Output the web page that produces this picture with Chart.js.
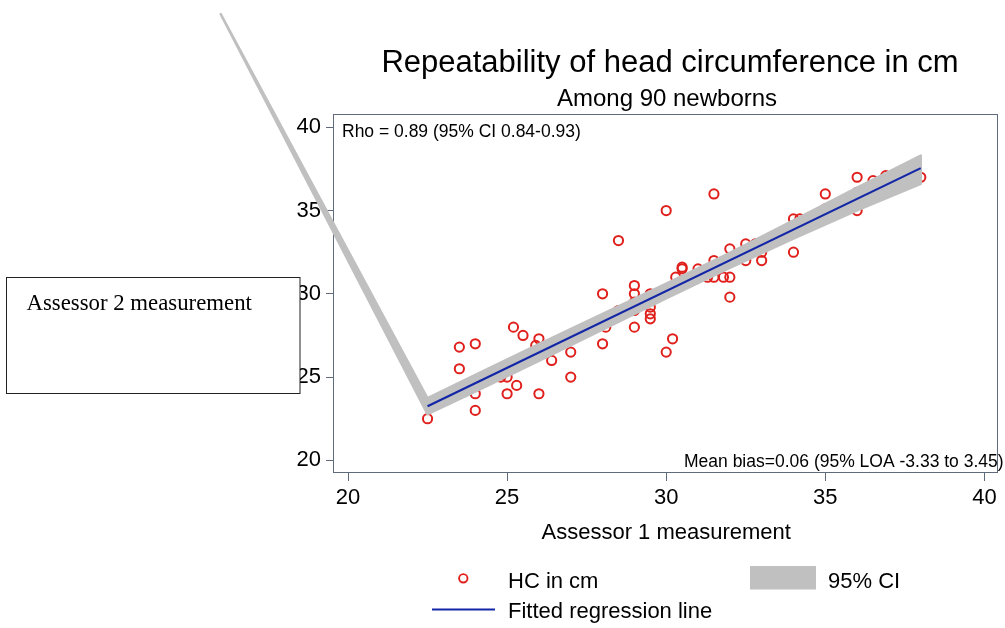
<!DOCTYPE html>
<html>
<head>
<meta charset="utf-8">
<script src="https://cdn.jsdelivr.net/npm/chart.js@4.4.1/dist/chart.umd.min.js"></script>
<style>
  html, body { margin: 0; padding: 0; background: #ffffff; }
  canvas { display: block; }
</style>
</head>
<body>
<canvas id="chart" width="1005" height="628"></canvas>
<script>
// Head circumference (cm) measured by two assessors
const assessor1 = [
  22.5, 23.5, 24, 23.5, 24, 24, 25.2, 25.5, 26, 25.9,
  26.4, 25, 24.8, 25.3, 25, 26, 27, 27, 28, 28,
  28.1, 28.5, 28.5, 29, 29, 29, 29, 29, 29.5, 29.5,
  29.5, 29.5, 29.5, 30, 30, 30.2, 30.3, 30.5, 30.5, 31,
  31, 31.3, 31.5, 31.8, 32, 31.5, 31.5, 32, 32, 32.5,
  32.8, 32.5, 33, 33, 34, 34.2, 34, 35, 35, 35,
  36, 36.5, 36.9, 38, 36, 36
];
const assessor2 = [
  22.5, 26.8, 27, 25.5, 24, 23, 28, 27.5, 27.3, 26.9,
  26, 25, 25, 24.5, 24, 24, 26.5, 25, 30, 27,
  28, 29, 33.2, 30.5, 30, 29.5, 29, 28, 30, 29.6,
  29.2, 28.8, 28.5, 35, 26.5, 27.3, 31, 31.5, 31.6, 31.5,
  31, 31, 31, 31, 31, 32, 36, 32.7, 29.8, 33,
  33, 32, 32.5, 32, 34.5, 34.5, 32.5, 36, 35.1, 34.5,
  37, 36.8, 37.1, 37, 35, 36.1
];

// Fitted regression line
const fitX = [22.5, 38];
const fitY = [23.25, 37.55];

// 95% confidence band of the fit
const ciX    = [16.0, 22.5, 24, 26, 28, 30, 32, 34, 36, 38];
const ciLow  = [46.8, 22.77, 24.13, 25.98, 27.85, 29.72, 31.56, 33.31, 35.02, 36.6];
const ciHigh = [46.8, 23.73, 25.13, 26.98, 28.79, 30.62, 32.46, 34.41, 36.38, 38.3];

// Axis ticks
const xTicks = [20, 25, 30, 35, 40];
const yTicks = [20, 25, 30, 35, 40];

const frameColor = '#5f6b7a';
const redColor = '#e0201c';
const blueColor = '#1226a6';
const bandColor = '#c0c0c0';
const sans = '"Liberation Sans", Arial, Helvetica, sans-serif';
const serif = '"Liberation Serif", "Times New Roman", serif';

// Confidence band: filled polygon through the scales, drawn just before the fit line
const ciBand = {
  id: 'ciBand',
  beforeDatasetDraw(chart, args) {
    if (args.index !== 0) return;
    const { ctx, scales: { x, y } } = chart;
    ctx.save();
    ctx.beginPath();
    ciX.forEach((v, i) => {
      const px = x.getPixelForValue(v), py = y.getPixelForValue(ciHigh[i]);
      if (i === 0) ctx.moveTo(px, py); else ctx.lineTo(px, py);
    });
    for (let i = ciX.length - 1; i >= 0; i--) {
      ctx.lineTo(x.getPixelForValue(ciX[i]), y.getPixelForValue(ciLow[i]));
    }
    ctx.closePath();
    ctx.fillStyle = bandColor;
    ctx.fill();
    ctx.lineWidth = 2.5;
    ctx.lineJoin = 'round';
    ctx.strokeStyle = bandColor;
    ctx.stroke();
    ctx.restore();
  }
};

// Plot frame, annotations, titles, legend and the y-axis caption box
const decor = {
  id: 'decor',
  beforeDatasetsDraw(chart) {
    const { ctx, chartArea: a } = chart;
    ctx.save();
    ctx.strokeStyle = frameColor;
    ctx.lineWidth = 1;
    ctx.strokeRect(Math.round(a.left) - 0.5, Math.round(a.top) + 0.5,
                   Math.round(a.right - a.left), Math.round(a.bottom - a.top) - 1);
    ctx.restore();
  },
  afterDraw(chart) {
    const { ctx, chartArea: a } = chart;
    ctx.save();
    ctx.fillStyle = '#000';
    ctx.textBaseline = 'alphabetic';

    // annotations inside the plot
    ctx.font = '17.5px ' + sans;
    ctx.textAlign = 'left';
    ctx.fillText('Rho = 0.89 (95% CI 0.84-0.93)', a.left + 8, 136.5);
    ctx.fillText('Mean bias=0.06 (95% LOA -3.33 to 3.45)', 684, 466.5);

    // titles
    ctx.textAlign = 'center';
    ctx.font = '31px ' + sans;
    ctx.fillText('Repeatability of head circumference in cm', 670, 72);
    ctx.font = '24px ' + sans;
    ctx.fillText('Among 90 newborns', 667, 106);

    // legend
    ctx.textAlign = 'left';
    ctx.font = '22px ' + sans;
    ctx.beginPath();
    ctx.arc(463.3, 578.3, 4.2, 0, Math.PI * 2);
    ctx.strokeStyle = redColor;
    ctx.lineWidth = 1.9;
    ctx.stroke();
    ctx.fillText('HC in cm', 508, 588);
    ctx.fillStyle = bandColor;
    ctx.fillRect(750, 566, 66, 23.5);
    ctx.fillStyle = '#000';
    ctx.fillText('95% CI', 828, 588);
    ctx.beginPath();
    ctx.moveTo(432, 609.5);
    ctx.lineTo(495, 609.5);
    ctx.strokeStyle = blueColor;
    ctx.lineWidth = 2.2;
    ctx.stroke();
    ctx.fillText('Fitted regression line', 508, 617.5);

    // y-axis caption box
    ctx.fillStyle = '#fff';
    ctx.fillRect(6.5, 277.5, 293.5, 116);
    ctx.strokeStyle = '#222';
    ctx.lineWidth = 1;
    ctx.strokeRect(6.5, 277.5, 293.5, 116);
    ctx.fillStyle = '#000';
    ctx.font = '22.8px ' + serif;
    ctx.fillText('Assessor 2 measurement', 26.5, 309.5);
    ctx.restore();
  }
};

const tickFont = { family: sans, size: 22 };

new Chart(document.getElementById('chart'), {
  type: 'scatter',
  data: {
    datasets: [
      {
        type: 'line',
        label: 'Fitted regression line',
        data: fitX.map((v, i) => ({ x: v, y: fitY[i] })),
        borderColor: blueColor,
        borderWidth: 2.2,
        pointRadius: 0,
        fill: false,
        tension: 0
      },
      {
        label: 'HC in cm',
        data: assessor1.map((v, i) => ({ x: v, y: assessor2[i] })),
        pointStyle: 'circle',
        pointRadius: 4.6,
        pointBackgroundColor: 'rgba(0,0,0,0)',
        pointBorderColor: redColor,
        pointBorderWidth: 2
      }
    ]
  },
  options: {
    responsive: false,
    animation: false,
    devicePixelRatio: 1,
    layout: { padding: { top: 114, right: 3, bottom: 0, left: 0 } },
    plugins: { legend: { display: false }, tooltip: { enabled: false }, title: { display: false } },
    scales: {
      x: {
        type: 'linear',
        min: 19.56,
        max: 40.44,
        afterBuildTicks: s => { s.ticks = xTicks.map(v => ({ value: v })); },
        afterFit: s => { s.height = 155; },
        grid: { drawOnChartArea: false, drawTicks: true, tickLength: 8, color: frameColor, lineWidth: 1 },
        border: { display: false },
        ticks: { font: tickFont, color: '#000', padding: 4, maxRotation: 0 },
        title: { display: true, text: 'Assessor 1 measurement', font: { family: sans, size: 22 }, color: '#000', padding: { top: 0, bottom: 82 } }
      },
      y: {
        type: 'linear',
        min: 19.24,
        max: 40.8,
        afterBuildTicks: s => { s.ticks = yTicks.map(v => ({ value: v })); },
        afterFit: s => { s.width = 334; },
        grid: { drawOnChartArea: false, drawTicks: true, tickLength: 8, color: frameColor, lineWidth: 1 },
        border: { display: false },
        ticks: { font: tickFont, color: '#000', padding: 5 }
      }
    }
  },
  plugins: [ciBand, decor]
});
</script>
</body>
</html>
